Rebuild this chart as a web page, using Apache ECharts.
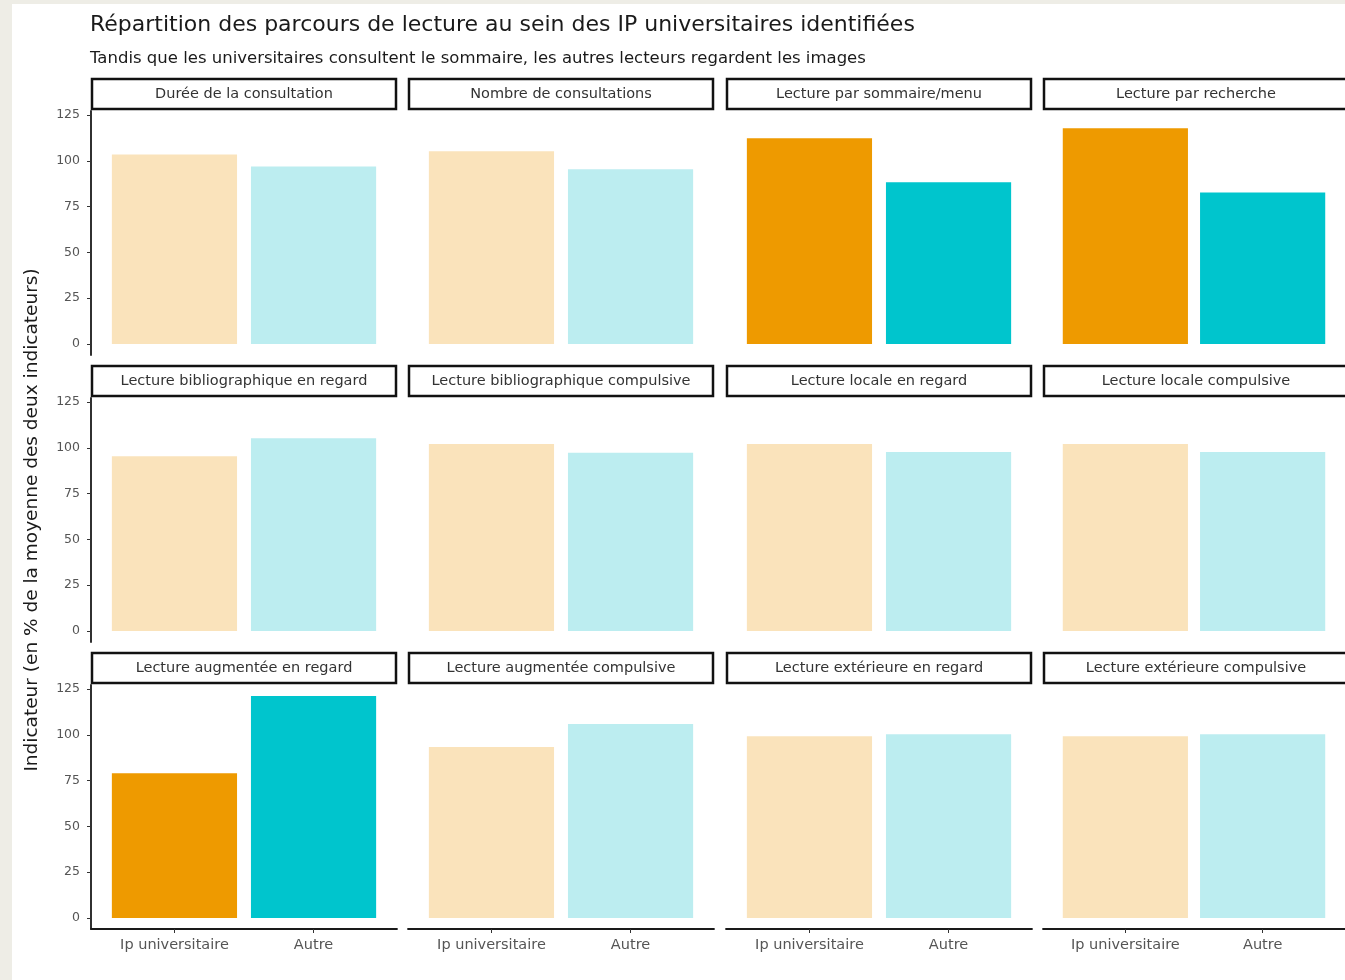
<!DOCTYPE html>
<html>
<head>
<meta charset="utf-8">
<script src="https://cdn.jsdelivr.net/npm/echarts@6/dist/echarts.min.js"></script>
<style>
  html, body { margin: 0; padding: 0; background: #fff; }
  #chart { width: 1345px; height: 980px; }
</style>
</head>
<body>
<div id="chart"></div>
<script>
// facettes (ordre de lecture, 4 colonnes x 3 lignes)
var facets = [
  'Durée de la consultation', 'Nombre de consultations', 'Lecture par sommaire/menu', 'Lecture par recherche',
  'Lecture bibliographique en regard', 'Lecture bibliographique compulsive', 'Lecture locale en regard', 'Lecture locale compulsive',
  'Lecture augmentée en regard', 'Lecture augmentée compulsive', 'Lecture extérieure en regard', 'Lecture extérieure compulsive'
];
var groups = ['Ip universitaire', 'Autre'];
var ipUniv = [103.5, 105.3, 112.4, 117.9, 95.4, 102.2, 102.1, 102.1, 79.1, 93.4, 99.3, 99.3];
var autre  = [97.0, 95.4, 88.3, 82.8, 105.3, 97.3, 97.7, 97.7, 121.2, 106.0, 100.4, 100.4];
// facettes mises en avant (couleurs pleines)
var highlighted = [false, false, true, true, false, false, false, false, true, false, false, false];
var yTicks = [0, 25, 50, 75, 100, 125];

var colors = { ip: '#ee9a00', autre: '#00c5cd', ipLight: '#fae3bb', autreLight: '#bcedf0' };
var FONT = 'DejaVu Sans, Liberation Sans, Arial';

// mise en page des panneaux
var nCol = 4;
var panelW = 306, panelH = 244, stripH = 32;
var colStep = 317.3;
var rowTop = [111, 398, 685];
var left0 = 91;
var yMin = -6.06, yMax = 127.27;
var barW = panelW / 2.2 * 0.9;

var grids = [], xAxes = [], yAxes = [], series = [], graphics = [];

graphics.push({ type: 'rect', shape: { x: 0, y: 0, width: 12, height: 980 }, style: { fill: '#eeede6' }, silent: true });
graphics.push({ type: 'rect', shape: { x: 0, y: 0, width: 1345, height: 4 }, style: { fill: '#eeede6' }, silent: true });

for (var i = 0; i < facets.length; i++) {
  var c = i % nCol, r = Math.floor(i / nCol);
  var x = Math.round(left0 + c * colStep);
  var y = rowTop[r];
  grids.push({ left: x, top: y, width: panelW, height: panelH, containLabel: false });

  var bottomRow = r === 2;
  xAxes.push({
    type: 'value', gridIndex: i, min: 0.4, max: 2.6,
    show: bottomRow,
    axisLine: { show: true, onZero: false, lineStyle: { color: '#1a1a1a', width: 1.8 } },
    axisTick: { show: true, length: 4, customValues: [1, 2], lineStyle: { color: '#333' } },
    axisLabel: {
      customValues: [1, 2], color: '#555', fontSize: 14.5, margin: 9,
      fontFamily: FONT,
      formatter: function (v) { return groups[Math.round(v) - 1]; }
    },
    splitLine: { show: false }
  });

  var firstCol = c === 0;
  yAxes.push({
    type: 'value', gridIndex: i, min: yMin, max: yMax,
    show: firstCol,
    axisLine: { show: true, onZero: false, lineStyle: { color: '#1a1a1a', width: 1.8 } },
    axisTick: { show: true, length: 4, customValues: yTicks, lineStyle: { color: '#333' } },
    axisLabel: { customValues: yTicks, color: '#555', fontSize: 12.5, margin: 11, fontFamily: FONT },
    splitLine: { show: false }
  });

  var hl = highlighted[i];
  series.push({
    type: 'bar', xAxisIndex: i, yAxisIndex: i,
    barWidth: barW,
    silent: true,
    data: [
      { value: [1, ipUniv[i]], itemStyle: { color: hl ? colors.ip : colors.ipLight } },
      { value: [2, autre[i]], itemStyle: { color: hl ? colors.autre : colors.autreLight } }
    ]
  });

  // bandeau de facette
  graphics.push({
    type: 'rect',
    shape: { x: x + 1, y: y - stripH, width: panelW - 2, height: stripH - 2 },
    style: { fill: '#fff', stroke: '#111', lineWidth: 2.5 },
    silent: true
  });
  graphics.push({
    type: 'text', x: x + panelW / 2, y: y - stripH / 2 - 1,
    style: { text: facets[i], fill: '#333', font: '14.5px ' + FONT, align: 'center', verticalAlign: 'middle' },
    silent: true
  });
}

graphics.push({
  type: 'text', x: 32, y: 520, rotation: Math.PI / 2,
  style: { text: 'Indicateur (en % de la moyenne des deux indicateurs)', fill: '#1a1a1a', font: '18.5px ' + FONT, align: 'center', verticalAlign: 'middle' },
  silent: true
});

var chart = echarts.init(document.getElementById('chart'));
chart.setOption({
  backgroundColor: '#fff',
  animation: false,
  title: [
    { text: 'Répartition des parcours de lecture au sein des IP universitaires identifiées', left: 85, top: 9,
      textStyle: { fontSize: 22, fontWeight: 'normal', color: '#1a1a1a', fontFamily: FONT } },
    { text: 'Tandis que les universitaires consultent le sommaire, les autres lecteurs regardent les images', left: 85, top: 45,
      textStyle: { fontSize: 16.5, fontWeight: 'normal', color: '#1a1a1a', fontFamily: FONT } }
  ],
  grid: grids,
  xAxis: xAxes,
  yAxis: yAxes,
  series: series,
  graphic: graphics
});
</script>
</body>
</html>
